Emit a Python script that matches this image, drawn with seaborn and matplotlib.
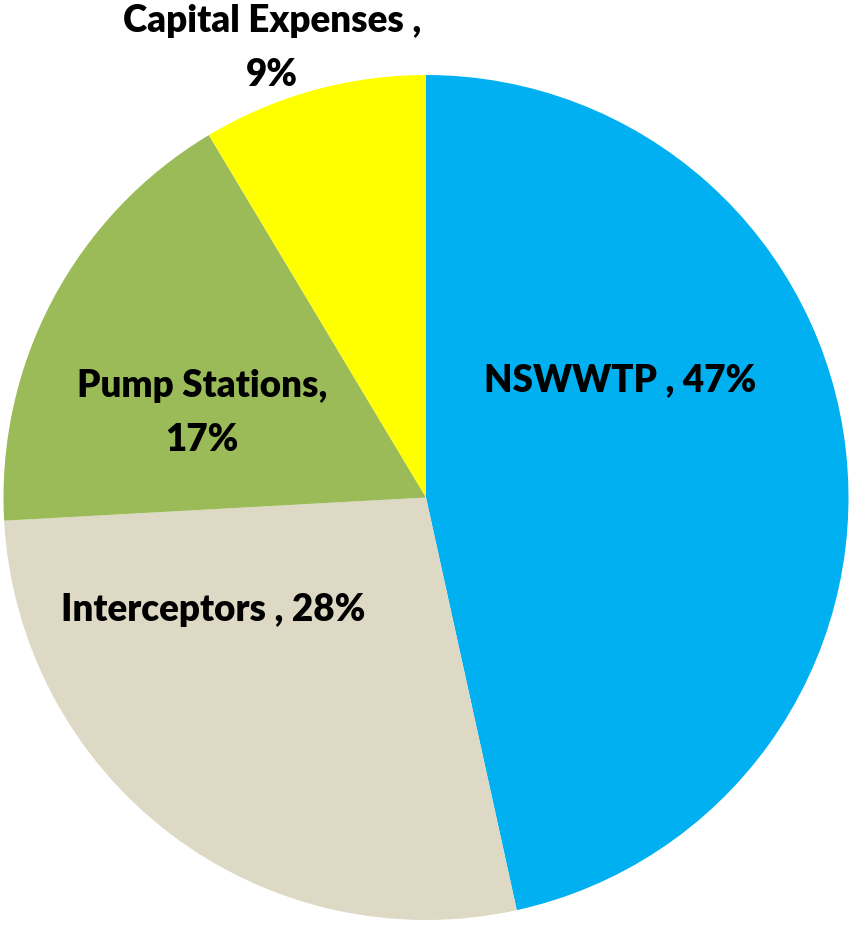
import matplotlib.pyplot as plt
import seaborn as sns

# Budget shares, clockwise from 12 o'clock
categories = ["NSWWTP", "Interceptors", "Pump Stations", "Capital Expenses"]
shares = [46.6, 27.6, 17.3, 8.6]
label_texts = ["NSWWTP , 47%", "Interceptors , 28%", "Pump Stations,\n17%", "Capital Expenses ,\n9%"]
colors = ["#00B0F0", "#DDD9C4", "#9BBB59", "#FFFF00"]

# label anchor points in data units (pie radius = 1)
label_pos = [(0.459, 0.278), (-0.504, -0.266), (-0.530, 0.200), (-0.364, 1.064)]

sns.set_theme(style="white")
plt.rcParams["font.family"] = ["Lato", "DejaVu Sans"]

fig = plt.figure(figsize=(8.53, 9.25), dpi=100)
ax = fig.add_axes([0, 0, 1, 1])

ax.pie(
    shares,
    colors=colors,
    startangle=90,
    counterclock=False,
    radius=1,
    wedgeprops={"linewidth": 0},
)

for txt, (x, y) in zip(label_texts, label_pos):
    ax.text(x, y, txt, ha="center", va="center", fontsize=26.5,
            fontweight="heavy", color="black", linespacing=1.7)

ax.set_xlim(-426 / 422.5, (853 - 426) / 422.5)
ax.set_ylim(-(925 - 497.5) / 422.5, 497.5 / 422.5)
ax.set_aspect("auto")
ax.axis("off")

fig.savefig("out.png", dpi=100, facecolor="white")
